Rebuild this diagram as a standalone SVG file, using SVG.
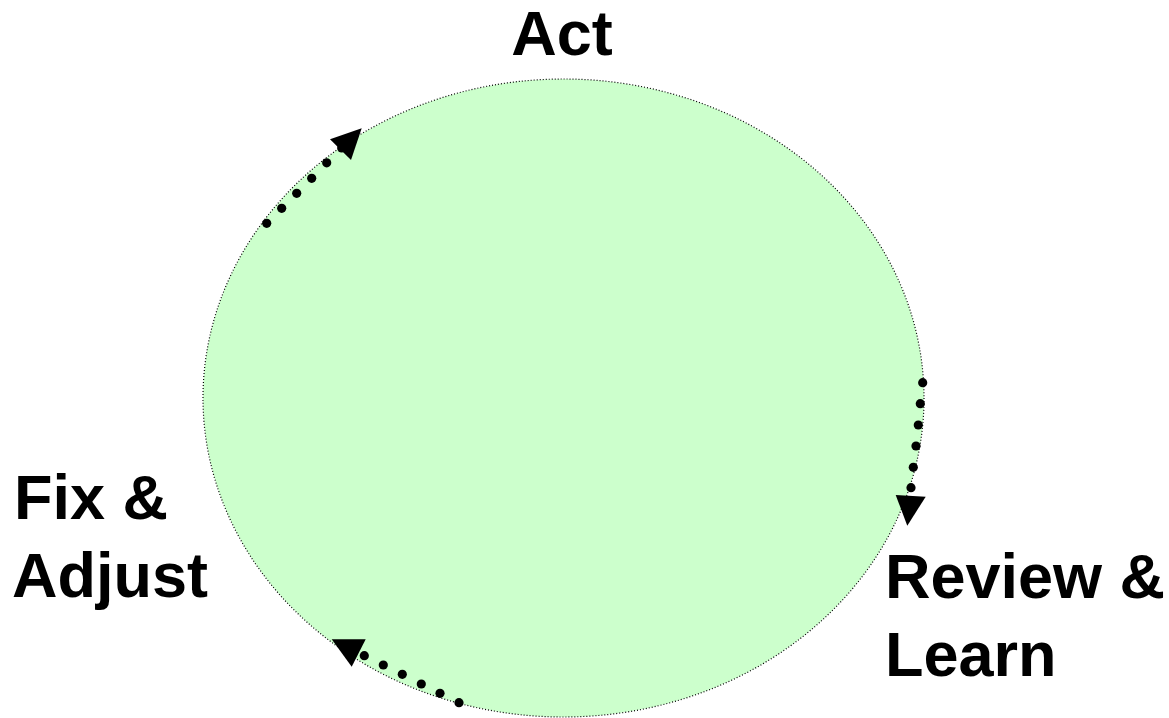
<svg xmlns="http://www.w3.org/2000/svg" width="1169" height="718" viewBox="0 0 1169 718">
  <style>
    .lbl { font-family: "Liberation Sans", Arial, sans-serif; font-weight: bold; font-size: 63px; fill: #000; }
    .dots circle { fill: #000; r: 4.6px; }
    .head { fill: #000; stroke: none; }
  </style>
  <rect width="1169" height="718" fill="#fff"/>
  <g id="cycle">
    <ellipse cx="563.5" cy="398" rx="360.5" ry="319" fill="#CCFFCC" stroke="#000" stroke-width="1.2" stroke-dasharray="1 2"/>
  </g>
  <g id="connectors">
    <g class="dots" id="arrow-act">
      <circle cx="266.7" cy="223.3" r="4.6"/>
      <circle cx="281.7" cy="208.3" r="4.6"/>
      <circle cx="296.7" cy="193.3" r="4.6"/>
      <circle cx="311.7" cy="178.3" r="4.6"/>
      <circle cx="326.7" cy="162.8" r="4.6"/>
      <circle cx="341.7" cy="148" r="4.6"/>
      <polygon class="head" points="330,139.3 351,160 361.7,128.3"/>
    </g>
    <g class="dots" id="arrow-review">
      <circle cx="922.7" cy="382.7" r="4.6"/>
      <circle cx="920.3" cy="403.7" r="4.6"/>
      <circle cx="918.3" cy="425" r="4.6"/>
      <circle cx="916" cy="446" r="4.6"/>
      <circle cx="913.3" cy="467.3" r="4.6"/>
      <circle cx="911" cy="487.7" r="4.6"/>
      <polygon class="head" points="895.7,495 925.7,496.7 907.3,525.7"/>
    </g>
    <g class="dots" id="arrow-fix">
      <circle cx="459" cy="702.7" r="4.6"/>
      <circle cx="440" cy="693.3" r="4.6"/>
      <circle cx="421.3" cy="684" r="4.6"/>
      <circle cx="402.3" cy="674.3" r="4.6"/>
      <circle cx="383.3" cy="665" r="4.6"/>
      <circle cx="364.3" cy="655.7" r="4.6"/>
      <polygon class="head" points="331.7,639.3 365.7,639.3 351.7,666.7"/>
    </g>
  </g>
  <g id="act">
    <text class="lbl" x="562" y="55" text-anchor="middle">Act</text>
  </g>
  <g id="review">
    <text class="lbl" x="885" y="598">Review &amp;</text>
    <text class="lbl" x="885" y="676">Learn</text>
  </g>
  <g id="fix">
    <text class="lbl" x="14" y="519">Fix &amp;</text>
    <text class="lbl" x="12" y="597">Adjust</text>
  </g>
</svg>
